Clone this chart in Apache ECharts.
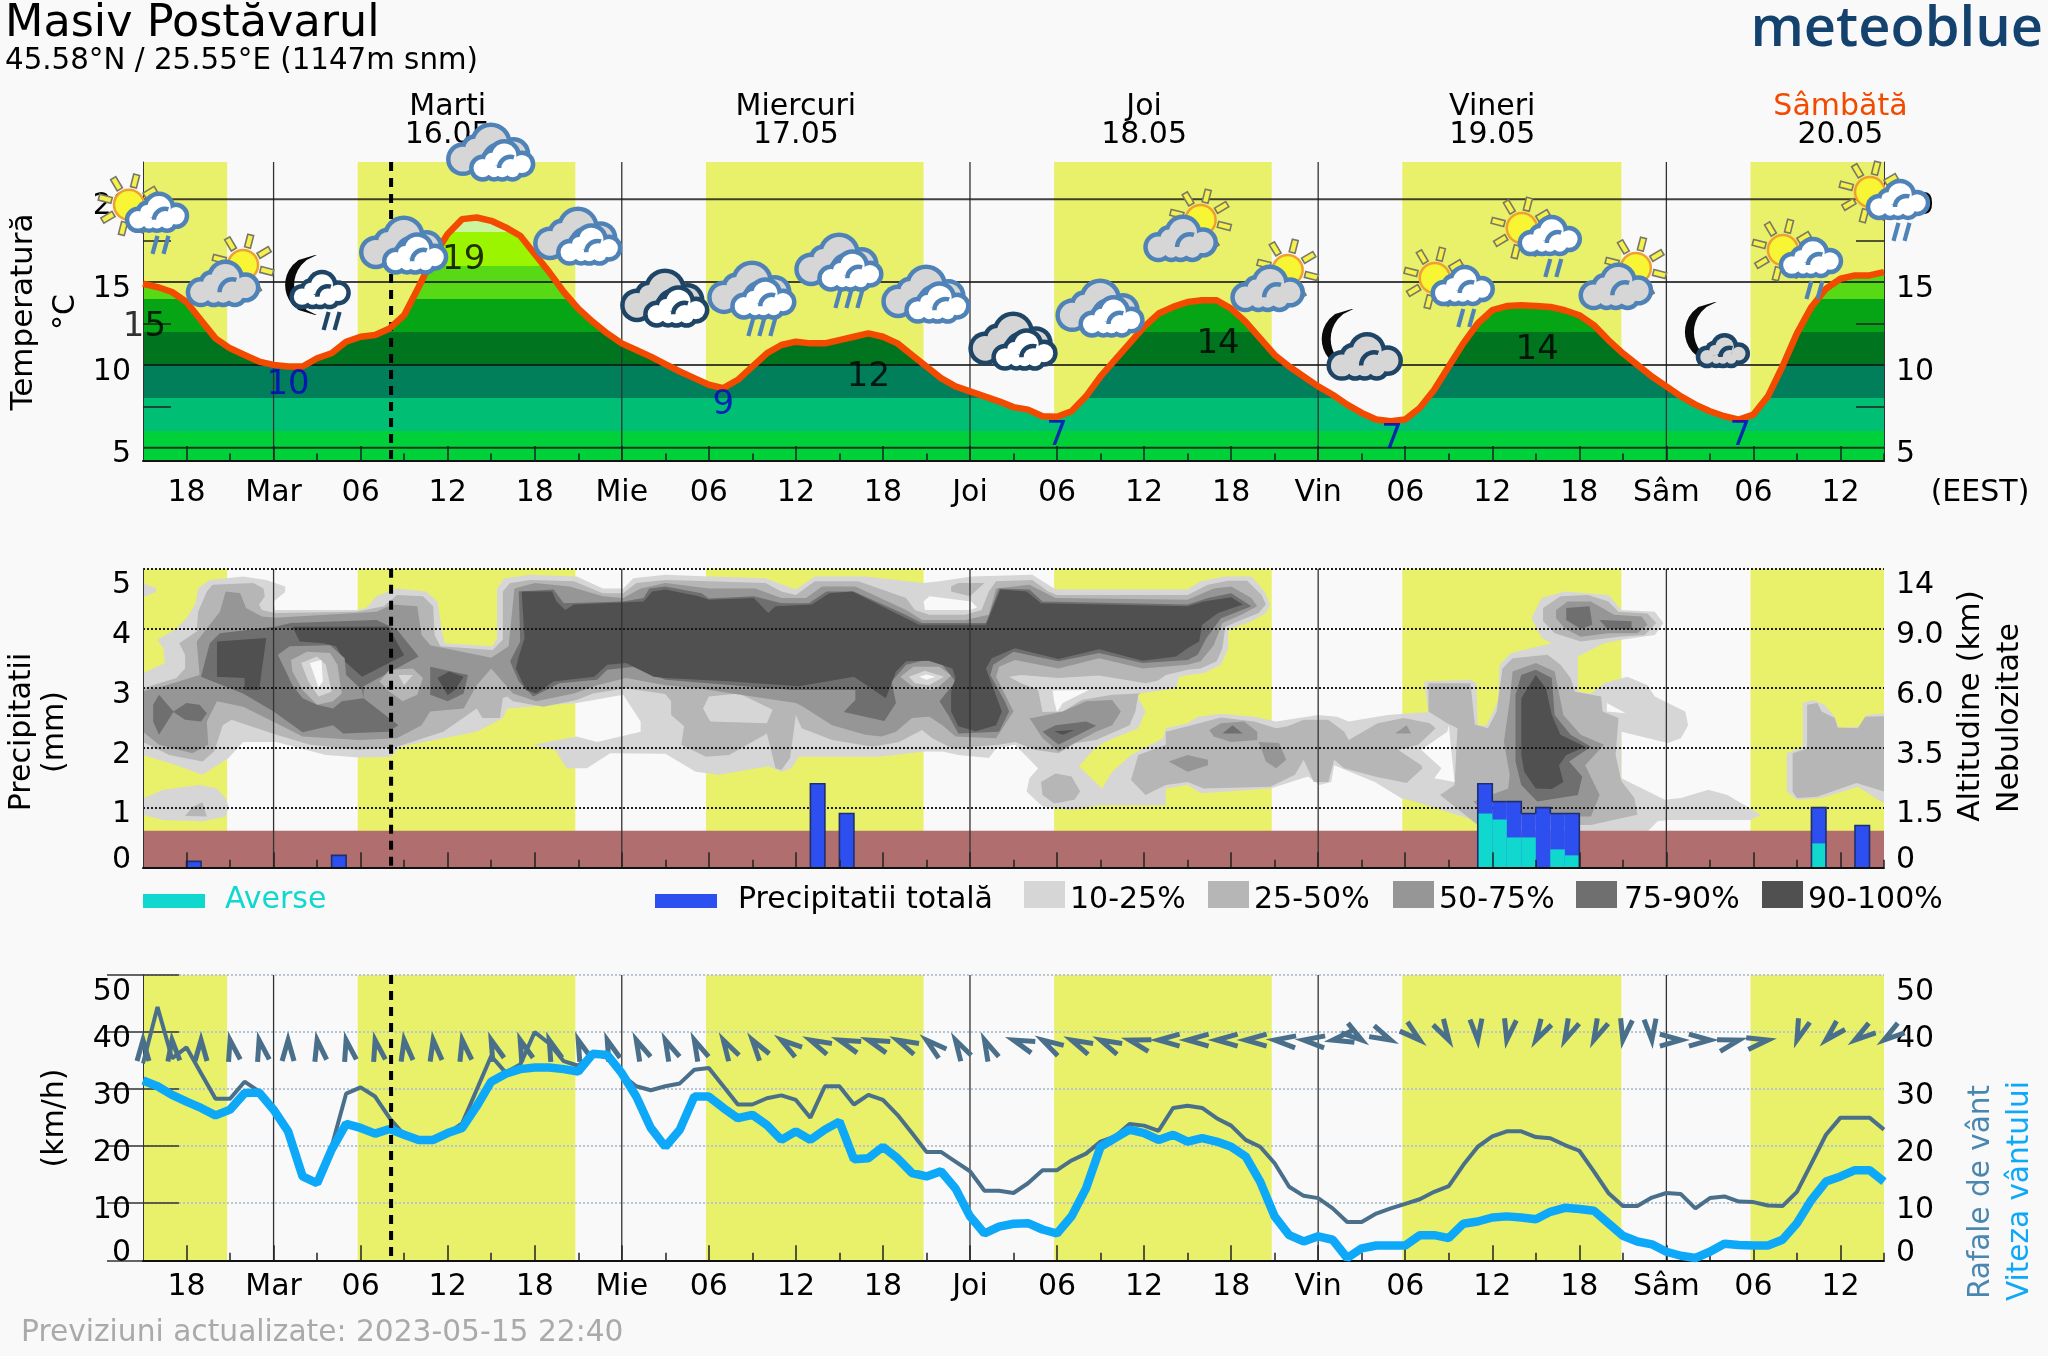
<!DOCTYPE html>
<html><head><meta charset="utf-8">
<style>html,body{margin:0;padding:0;background:#f9f9f9}#c{width:2048px;height:1356px}</style>
<script src="https://cdn.jsdelivr.net/npm/echarts@6/dist/echarts.min.js"></script>
</head><body><div id="c"></div>
<script>
// ---------- data ----------
const hourAxis = Array.from({length:121},(_,i)=>i); // hours since 15 May 15:00
const temperature = [14.9,14.7,14.4,13.8,12.7,11.6,11,10.6,10.2,10,9.9,9.9,10.4,10.7,11.4,11.7,11.8,12.2,13,14.7,16.5,17.9,18.8,18.9,18.7,18.3,17.8,16.7,15.6,14.4,13.4,12.6,11.9,11.3,10.9,10.5,10.05,9.6,9.2,8.8,8.6,9.1,9.9,10.7,11.2,11.4,11.3,11.3,11.5,11.7,11.9,11.7,11.3,10.6,9.9,9.2,8.7,8.4,8.1,7.8,7.45,7.3,6.9,6.87,7.2,8.1,9.3,10.3,11.3,12.3,13.1,13.5,13.8,13.9,13.9,13.4,12.6,11.6,10.6,9.9,9.3,8.7,8.2,7.6,7.1,6.7,6.6,6.7,7.4,8.5,9.9,11.3,12.5,13.3,13.55,13.6,13.55,13.5,13.3,13,12.4,11.5,10.7,10,9.3,8.7,8.1,7.6,7.2,6.9,6.7,7,8.1,9.9,11.9,13.5,14.6,15.2,15.4,15.4,15.6];
const windSpeed = [31.5,30.5,29,27.8,26.7,25.4,26.4,29.3,29.4,26.4,22.6,14.7,13.5,19.4,23.9,23.2,22.2,23,22,21.1,21.1,22.3,23.2,27,31.3,32.7,33.5,33.8,33.8,33.5,33.1,36.2,36,32.8,28.7,23.2,19.9,22.9,28.7,28.7,26.7,24.9,25.5,23.7,21.1,22.6,21.1,22.9,24.3,17.7,17.9,19.9,17.9,15.3,14.7,15.6,12.6,7.7,4.7,5.9,6.4,6.5,5.4,4.7,7.7,12.6,19.9,21.4,22.9,22.3,21.1,22,20.8,21.4,20.8,19.9,18.2,13.8,7.7,4.4,3.3,4.2,3.6,0.4,2.1,2.6,2.6,2.6,4.4,4.4,3.9,6.4,6.8,7.5,7.7,7.5,7.2,8.5,9.2,9,8.7,6.5,4.3,3.3,2.8,1.5,0.8,0.4,1.5,2.9,2.7,2.6,2.6,3.6,6.5,10.6,13.8,14.7,15.8,15.8,13.8];
const windGust = [34.5,44.4,35.4,37.3,32.8,28.3,28.3,31.3,29.6,26.4,22.6,14.7,13.5,19.9,29.2,30.3,28.7,24.9,22,21.1,21.1,22.3,24,29.9,35.8,32.9,34.3,40,38,34.9,34.1,36.2,35.5,32.5,30.5,29.8,30.5,31,33.4,33.7,30.5,27.3,27.3,28.4,28.9,28.1,25,30.5,30.5,27.3,29,28.1,25.5,22.3,19,19,17.3,15.6,12.2,12.2,11.8,13.5,15.8,15.8,17.5,18.7,20.8,21.7,23.9,23.6,22.7,26.7,27.1,26.7,24.9,23.6,21.1,19.9,17,12.9,11.3,10.9,9.1,6.7,6.7,8.2,9.1,9.9,10.7,12,13,16.7,19.9,21.7,22.6,22.6,21.6,21.4,20.2,19.2,15.6,11.8,9.5,9.5,11,11.8,11.6,9.1,10.9,11.2,10.3,10.2,9.6,9.5,12,17,22,25,25,25,22.9];
// wind direction every 2 hours, degrees clockwise from north-up
const windDirection = [0,-5,0,-12,-12,0,-10,-12,-12,-8,-8,-10,-20,-20,-20,-20,-20,-25,-25,-25,-30,-35,-55,-65,-70,-70,-65,-50,-30,-25,-70,-60,-65,-65,-75,-90,-90,-90,-90,-85,-85,-100,125,115,130,150,175,-170,-150,-155,-155,-170,175,90,90,75,80,-160,-135,-125,-125];
const rainHours   = [3,13,46,48,92,93,94,95,96,97,98,115,118];
const rainTotal   = [0.1,0.2,1.4,0.9,1.4,1.1,1.1,0.9,1.0,0.9,0.9,1.0,0.7];
const rainShowers = [0,0,0,0,0.9,0.8,0.5,0.5,0,0.3,0.2,0.4,0];
const daylight = [[0,5.8],[14.8,29.8],[38.8,53.8],[62.8,77.8],[86.8,101.9],[110.8,120]];
const dayLineHours = [9,33,57,81,105];
const nowHour = 17.1;
const groundLevel = 0.61;
const xLabelHours = [3,9,15,21,27,33,39,45,51,57,63,69,75,81,87,93,99,105,111,117];
const xLabels = ['18','Mar','06','12','18','Mie','06','12','18','Joi','06','12','18','Vin','06','12','18','Sâm','06','12'];
const xMinorHours = [6,12,18,24,30,36,42,48,54,60,66,72,78,84,90,96,102,108,114,120];
const dayHours = [21,45,69,93,117];
const dayNames = ['Marti','Miercuri','Joi','Vineri','Sâmbătă'];
const dayDates = ['16.05','17.05','18.05','19.05','20.05'];
const tempTicks = [5,10,15,20];
const tempMinorTicks = [7.5,12.5,17.5];
const tempBands = [4,6,8,10,12,14,16,18,20];
const tempBandColors = ['#00d13a','#00bf74','#007f5a','#00741f','#05a516','#58d915','#9cf500','#cdf5a0'];
const tempMarkHours = [0.1,10,22.1,40,50,63,74.1,86.1,96.1,110.1];
const tempMarkY     = [12.3,8.8,16.3,7.54,9.23,5.67,11.28,5.49,10.9,5.67];
const tempMarkText  = [15,10,19,9,12,7,14,7,14,7];
const tempMarkIsMin = [0,1,0,1,0,1,0,1,0,1];
const iconHours = [0,6,12,18,24,30,36,42,48,54,60,66,72,78,84,90,96,102,108,114,120];
const iconY = [19,15.67,14.46,17.24,22.86,17.78,14.04,13.92,15.61,14.28,11.44,13.44,18.39,15.37,11.2,14.58,17.6,15.49,11.8,16.27,19.78];
const iconKinds = ['sunRain','sunGrey','moonRain','clouds','clouds','clouds','cloudsDark','cloudsRain','cloudsRain','clouds','cloudsDark','clouds','sunGrey','sunGrey','moonGrey','sunRain','sunRain','sunGrey','moonSmall','sunRain','sunRain'];
const altitudeLabels = ['0','1.5','3.5','6.0','9.0','14'];
const precipLabels = ['0','1','2','3','4','5'];
const cloudShades = ['#d6d6d6','#b6b6b6','#969696','#6f6f6f','#505050','#f9f9f9'];

// cloud contours: flat hour,level pairs (left axis units)
const c10Main=[0,3.25,1.5,3.42,1.4,3.67,1,3.81,2.3,4,3,4.17,3.6,4.4,3.8,4.67,4.6,4.81,6.9,4.87,8.5,4.81,9.8,4.7,9.8,4.61,9,4.45,9.1,4.31,14.7,4.31,15.4,4.34,16.1,4.54,17.5,4.67,19.5,4.62,20.3,4.45,20.6,3.95,20.8,3.75,24.1,3.7,24.4,3.84,24.4,4.67,24.9,4.84,26.7,4.9,29.9,4.87,31.7,4.67,33.1,4.67,33.8,4.84,36,4.9,39,4.87,42.9,4.84,45,4.65,46.3,4.87,49.8,4.87,53.8,4.76,54.9,4.79,57.1,4.87,61.3,4.9,62.8,4.67,63.1,4.65,72,4.65,72.9,4.79,74.5,4.87,76.4,4.87,77.3,4.62,77.7,4.4,77.4,4.26,76.4,4.12,75,4,74.8,3.95,74.8,3.67,74.3,3.39,73.1,3.25,72,3.22,71.4,3.19,71.2,3,68.6,2.91,68.6,2.83,69.1,2.61,68.6,2.33,66.3,2.1,65.7,2.02,64.5,1.69,66.1,1.32,66.8,1.6,68.1,1.88,70.3,2.16,70.5,2.33,72,2.41,72.7,2.52,74.3,2.57,76.6,2.52,78.1,2.44,81,2.55,82.3,2.52,83.1,2.44,85.8,2.55,88.6,2.6,88.3,3.11,91.5,3.14,91.9,3.08,92,2.38,92.6,2.38,93.4,2.78,93.5,3.39,94.3,3.59,97.1,3.75,96.4,3.84,95.7,4.17,96.4,4.51,98,4.62,101,4.56,101.9,4.31,104.2,4.28,104.8,4.09,104.2,3.89,101.9,3.81,100.7,3.75,98.9,3.53,98.9,2.94,99.8,2.91,100.7,3.08,102.3,3.19,103.7,3.05,104.2,2.86,106.3,2.61,106.5,2.38,106,2.16,105.1,2.08,101.9,2.27,101.9,1.49,104.9,1.13,106,1.16,107.9,1.3,109.2,1.21,111.5,0.88,110.8,0.79,105.1,0.79,104.4,0.77,103.7,0.6,92,0.6,92,0.77,88.1,1.07,86.7,1.16,84.9,1.43,82.1,1.71,81.9,1.43,81.1,1.38,80.3,1.52,77.7,1.32,72.9,1.24,72,1.38,70.5,1.32,70.5,1.04,65.9,1.04,64,0.96,62,1.02,60.9,1.27,61.1,1.49,61.7,1.66,60.1,2.05,58.8,1.99,58.3,1.83,56.2,1.88,55.1,1.94,53.9,1.94,50.7,1.85,45.2,1.85,44.7,1.66,44,1.6,43.1,1.69,39.7,1.55,38.1,1.6,36,1.9,32.2,1.91,30.6,1.66,29.2,1.66,28.4,1.97,26.9,2.05,29.9,2.19,31.3,2.1,34.3,2.27,34.3,2.44,33.1,2.89,29.9,2.75,25.1,2.66,24.8,2.5,23,2.27,18.4,2.05,17.7,2.02,17.1,1.85,14.9,1.84,12.6,1.88,9.2,2.1,6.9,2.1,5.9,1.83,4.1,1.55,2.3,1.71,0,1.88];
const c10Island=[0,1.15,1.4,1.3,3.9,1.38,5.1,1.32,5.7,1.15,5.9,1.01,5.7,0.85,4.1,0.77,1.4,0.79,0,0.88];
const c10Tab=[0,4.76,0.9,4.67,0.9,4.61,0,4.52];
const c10Far=[114.4,2.75,115.1,2.8,115.9,2.72,116.6,2.52,116.9,2.33,118.3,2.36,118.8,2.55,120,2.58,120,1.07,118.2,1.35,115.7,1.16,114,1.13,113.3,1.27,113.3,1.91,114.4,2.02];
const c25Island=[2.9,0.86,3.4,1.01,4.1,1.09,4.4,0.85];
const c25Main=[0,3,2.3,3.17,2.9,3.33,2.9,3.56,2.5,3.75,3.7,3.95,3.8,4.28,4.4,4.62,4.8,4.73,7.6,4.76,8.3,4.67,8.4,4.54,8,4.4,8.2,4.31,9.1,4.26,14.7,4.28,16.6,4.37,17.5,4.56,19.3,4.54,20,4.37,20.1,3.89,20.5,3.7,24.1,3.64,24.8,3.81,24.8,4.62,25.3,4.76,26.7,4.81,29.7,4.79,31.7,4.59,33.1,4.59,34,4.76,36,4.81,39,4.79,42.9,4.76,44,4.62,45,4.56,46.3,4.79,49.3,4.79,52.6,4.51,53.2,4.31,54.2,4.23,56.7,4.23,57.8,4.31,58.3,4.62,58.8,4.79,61.3,4.81,62.4,4.62,63,4.56,72,4.56,73.4,4.73,74.8,4.8,76.1,4.8,77.1,4.56,77.4,4.4,76.9,4.26,75.7,4.14,74.6,4.03,74.4,3.67,74,3.45,72.9,3.33,72,3.31,70.5,3.22,68.6,2.89,68.4,2.61,68,2.38,65.7,2.13,64.3,2.08,63.1,1.91,61.5,1.97,60.1,2.1,59,2.05,55.8,1.99,54.4,2.16,53.7,2.3,52.1,2.1,50.3,2.02,47.5,2.13,45.4,2.33,45,2.55,44.6,1.83,44,1.63,43.6,1.66,43,2.24,40.4,1.88,38.8,1.85,37.1,2.05,37.3,2.36,36.4,2.55,36.4,2.78,36,2.9,33.3,3,31,2.91,29.9,2.8,27.6,2.69,25.5,2.78,25.1,2.86,24.8,2.83,24.6,2.5,23.4,2.5,23,2.66,20.7,2.27,17.5,2.02,14.9,1.97,11.5,2.05,9.2,2.22,6.1,2.47,5.5,2.38,4.9,1.94,4.1,1.77,1.8,1.88,0,2.1];
const c25Lower=[68.1,1.46,68.6,1.88,70.5,2.05,70.5,2.27,72,2.36,74.3,2.51,76.6,2.44,78.1,2.33,78.9,2.36,80,2.47,81.7,2.47,82.8,2.27,83.1,2.13,85.1,2.41,86.9,2.5,88.7,2.41,89.1,2.33,87.9,2.05,86.5,1.97,88.1,1.71,88.2,1.66,87.1,1.41,84.9,1.52,82.8,1.66,82.1,1.8,81.7,1.43,80.7,1.43,80,1.8,79.4,1.55,77.7,1.35,73.1,1.32,72,1.43,70.5,1.38,69.1,1.21];
const c25Right=[88.6,3.08,91.5,3.08,91.8,2.39,92.7,2.33,93.3,2.61,93.7,3.33,94.4,3.5,96.8,3.56,97.7,3.39,98.4,3.17,98.7,2.94,100.5,2.86,100.6,2.61,101.7,2.5,101.5,1.88,101.9,1.44,102.8,1.16,103,0.88,99.8,0.71,92,0.71,89.4,1.21,90.4,1.38,90.6,2.33,89.9,2.41,88.6,2.61];
const c25Upper=[96.5,4.34,97.7,4.54,99.6,4.56,101,4.45,101.7,4.28,103.7,4.25,104.3,4.09,103.5,3.89,101.7,3.86,99.1,3.78,97.3,3.92,96.5,4.12];
const c25Blob=[61.9,1.43,62.9,1.57,64,1.52,64.6,1.27,64.2,1.13,62.8,1.07,62,1.21];
const c25Top=[55.7,4.7,56.2,4.76,58,4.76,57,4.54,55.7,4.62];
const c25Far=[114.7,2.72,115.4,2.75,115.7,2.61,116.6,2.5,116.8,2.34,118.2,2.33,118.7,2.52,120,2.53,120,1.27,118.1,1.41,115.4,1.18,114,1.16,113.7,1.27,113.7,1.91,114.7,1.99];
const c10Stripe=[59.7,3.19,60.5,3.22,63.1,3.17,65.9,3.21,69.1,3.08,71.2,3.19,71.1,3,68.6,2.91,66.8,2.89,64.7,2.8,63.4,2.61,62,2.6,61.7,2.97,60.5,3.08];
const c10Patch=[38.6,2.66,39,2.86,41.1,2.91,43.4,2.64,43,2.41,39.1,2.44];
const clearStripe=[62.7,2.96,65.2,2.97,63.4,2.75,63,2.6,62.8,2.78];
const clearTop=[53.8,4.45,54.2,4.54,57.1,4.45,57.5,4.35,57,4.31,53.9,4.31];
const clearLower=[90,2.38,90.4,1.43,89,1.49,89.5,1.66,88.1,1.97,89.9,2.27];
const clearRight=[100.9,2.75,102.2,2.58,100.9,2.61];
const c50Main=[0,2.95,1.4,3.03,3.9,3.22,3.7,3.78,5.3,4.28,5.7,4.62,6.7,4.59,7.1,4.34,8.2,4.2,9.1,4.18,16.1,4.28,17.2,4.4,18.9,4.37,19.2,3.89,19.8,3.72,24,3.51,25.2,3.7,25.6,4.67,27,4.76,29.4,4.7,31.7,4.54,33.1,4.51,34.3,4.67,36,4.76,39,4.67,42.2,4.67,44,4.51,45.7,4.51,46.8,4.7,49.1,4.7,52.6,4.31,53.7,4.14,56.7,4.14,58.3,4.23,58.8,4.67,61.1,4.73,62.9,4.51,72,4.48,73.8,4.67,75,4.7,76.4,4.51,76.8,4.37,75.7,4.23,74.4,4.09,73.8,3.72,72.9,3.45,72,3.39,68.9,3.33,65.9,3.5,63.1,3.33,60.1,3.47,59,3.36,58.8,3.19,60,2.61,58.8,2.16,56,2.19,55.1,2.38,54.2,2.52,53,2.5,51.9,2.27,50.9,2.19,49.8,2.22,47.5,2.38,45.5,2.69,45,2.75,40.6,2.91,38.3,3,36,3.05,33.3,3.17,31.3,3.05,29.7,2.91,27.1,2.78,25.5,2.91,24,3.33,23,3.05,22.1,2.66,19.8,2.61,19.2,2.38,17.5,2.16,14.9,2.13,11,2.19,9.2,2.41,6.9,2.69,5.1,2.78,4.4,2.44,4.5,2.05,3.4,1.91,1.1,2.05,0,2.27];
const c50Blob=[61.3,2.5,63.4,2.61,65,2.78,66.8,2.8,67.4,2.61,66.8,2.38,65.7,2.27,63.1,1.94,62,2.16,61.1,2.5];
const c50Lobe=[76.9,2.1,78.3,2.08,78.8,1.8,78.1,1.66,77.4,1.77];
const c50Edge=[70.7,1.77,72,1.88,73.4,1.8,73.4,1.71,72,1.6];
const c50Oval=[73.5,2.3,74.3,2.41,75.9,2.44,76.8,2.27,76.8,2.13,75,2.1,73.8,2.19];
const c50Peak=[86.3,2.24,87.1,2.38,87.4,2.24];
const c50Right=[93.8,2.1,94.2,2.78,94.4,3.28,96,3.42,97.3,3.28,97.9,2.55,99.1,2.22,100.7,2.05,99.4,1.71,100.4,1.21,99.8,0.85,92.7,0.85,91.7,1.1,94.1,1.32,94.2,1.55];
const c50Upper=[97.4,4.31,98.2,4.45,99.8,4.45,101.4,4.23,103.3,4.2,103.7,4.06,103,3.92,101,3.92,99.1,3.86,98,4,97.4,4.17];
const c75Left=[4,3.19,4.6,3.75,5.3,3.92,9.1,4.03,10.2,4.09,16.1,4.14,17.5,3.98,19,3.53,15.2,3.03,15.2,2.83,17.6,2.38,16.9,2.27,13.8,2.24,13.1,2.38,11,2.26,9,2.61,6.9,2.91];
const c75Small=[0.7,2.72,1.1,2.89,2.1,2.61,3,2.75,3.9,2.72,4.4,2.58,4,2.44,2.9,2.47,2.1,2.6,1.1,2.22,0.7,2.44];
const c75Mid=[19.8,3.36,22.4,3.22,22.1,2.91,21,2.78,19.8,2.89];
const c75Main=[25.3,3.45,26,3.78,25.9,4.62,28.3,4.65,29,4.42,33.1,4.45,34.5,4.51,34.9,4.67,36,4.7,38.5,4.59,39,4.5,42.1,4.54,44,4.42,45.9,4.42,47.1,4.62,49,4.62,52.3,4.26,53.7,4.09,58.1,4.09,59,4.67,61.1,4.65,62,4.45,72,4.4,73.4,4.51,75,4.59,76.4,4.37,74.3,4.17,73.3,3.84,72.7,3.56,72,3.47,68.9,3.42,65.9,3.59,63.1,3.45,60,3.61,58.6,3.39,58.4,3.22,59.4,2.78,59.7,2.61,59,2.27,56.2,2.24,55.5,2.55,54.9,2.78,56,3.11,55.1,3.39,53.9,3.47,52.6,3.39,51.6,3.11,51.9,2.75,51.1,2.45,48.3,2.6,49.1,2.8,49.1,2.97,46.1,2.97,44.7,2.97,40.6,3.05,36,3.14,33.8,3.36,32,3.31,31.3,3.14,28.7,3.08,26.9,2.86,25.9,3.11];
const c75Blob=[62,2.27,62.9,2.38,65,2.44,65.7,2.37,63.1,2.05];
const c75Oval=[74.4,2.24,75.1,2.38,75.8,2.24];
const c75Right=[94.6,2.05,94.6,2.89,95,3.22,96,3.31,97.1,3.17,97.3,2.55,98.4,2.22,99.8,2.02,98.3,1.77,99.2,1.52,98.9,1.21,96.1,1.1,95,1.38,94.6,1.77];
const c75UpperA=[98.1,4.34,99.7,4.37,99.9,4.06,99.1,3.99,98.1,4.14];
const c75UpperB=[100.4,4.14,102.6,4.12,102.6,3.98,100.9,4];
const c90Left=[5.1,3.78,8.5,3.84,8,2.97,7,2.97,7,3.17,5.1,3.19];
const c90Centre=[10.3,4.03,16.9,4.03,18,3.55,15.1,3.19,13.9,3.45,13.3,3.7,12.4,3.75,10.8,3.78];
const c90Mid=[20.3,3.17,21.1,3.28,22.1,3.19,21.5,2.97,21,2.88];
const c90Main=[26.3,3.84,26.1,4.62,28.2,4.62,28.5,4.45,29.1,4.31,29.7,4.4,34.5,4.45,35.1,4.62,36,4.65,38.3,4.54,39,4.48,42.1,4.51,43.1,4.26,43.6,4.37,46.1,4.4,47.3,4.59,48.9,4.62,52.1,4.23,53.5,4.06,58.1,4.06,59.1,4.65,60.9,4.62,61.9,4.42,72,4.37,73.1,4.45,75,4.52,75.8,4.4,74.1,4.26,73,4.06,72.8,3.78,72,3.67,71.2,3.53,68.9,3.46,65.9,3.65,63.1,3.49,60.1,3.67,58.5,3.5,58.1,3.33,59.2,2.61,58.8,2.38,57.4,2.28,56.2,2.36,55.7,2.61,55.7,2.94,56,3.17,55.8,3.33,54.2,3.46,52.6,3.45,51.9,3.28,51.2,2.83,49,3.19,45.2,3.03,40.6,3.11,36,3.17,35.2,3.19,33.3,3.42,32,3.39,31.1,3.19,28.3,3.11,27.1,2.91,26.4,2.97,25.7,3.33,25.9,3.53];
const c90Blob=[62.8,2.28,64.2,2.3,63.4,2.22];
const c90Right=[95,1.88,95,2.83,96,3.22,96.7,3,97.1,2.55,97.7,2.22,99.4,2.02,98.1,1.88,97.6,1.71,97.9,1.43,97.1,1.31,96,1.32,95.2,1.6];
const holeA50=[9.3,3.56,10.1,3.7,12.9,3.72,13.9,3.5,14,3.22,15.1,2.97,15.2,2.83,13.7,2.78,13.1,2.66,12,2.72,11,2.83,10.3,3.05];
const holeA25=[10.2,3.47,11.3,3.61,12.9,3.59,13.4,3.39,13.7,2.91,13.1,2.78,12,2.72,11,2.97,10.3,3.28];
const holeA10=[10.9,3.42,12,3.53,12.6,3.39,13,2.94,12.1,2.86,11.4,3.11];
const holeAClear=[11.5,3.42,12.3,3.47,12.4,3.11,12.1,3.01,11.8,3.22];
const holeB25=[16.3,3.11,17,3.31,18.6,3.33,19.3,3.17,18.9,2.89,17.9,2.78,17,2.94];
const holeB10=[17.6,3.22,18.6,3.22,18,3.05];
const holeC25=[52.2,3.19,53.1,3.36,54.9,3.36,55.7,3.21,54.9,3.03,54.3,2.97,53,3.03];
const holeC10=[52.8,3.19,53.9,3.29,55.2,3.19,54.2,3.05,53.2,3.08];
const holeCClear=[53.5,3.19,54,3.23,54.6,3.19,54,3.14];
// painting order: [shade index, contour]
const cloudLayers=[[0,c10Main],[0,c10Island],[0,c10Tab],[0,c10Far],[1,c25Island],[1,c25Main],[1,c25Lower],[1,c25Right],[1,c25Upper],[1,c25Blob],[1,c25Top],[1,c25Far],[0,c10Stripe],[0,c10Patch],[5,clearStripe],[5,clearTop],[5,clearLower],[5,clearRight],[2,c50Main],[2,c50Blob],[2,c50Lobe],[2,c50Edge],[2,c50Oval],[2,c50Peak],[2,c50Right],[2,c50Upper],[3,c75Left],[3,c75Small],[3,c75Mid],[3,c75Main],[3,c75Blob],[3,c75Oval],[3,c75Right],[3,c75UpperA],[3,c75UpperB],[4,c90Left],[4,c90Centre],[4,c90Mid],[4,c90Main],[4,c90Blob],[4,c90Right],[2,holeA50],[1,holeA25],[0,holeA10],[5,holeAClear],[1,holeB25],[0,holeB10],[1,holeC25],[0,holeC10],[5,holeCClear]];

// ---------- layout ----------
const FONT='"DejaVu Sans"';
const G=[{top:162,bottom:461},{top:568.7,bottom:867.3},{top:975,bottom:1260.3}];
const L=143,R=1884;
const tempMin=4.197,tempMax=22.25;
const YELLOW='#e9f069',GUST='#4a6f8a',SPEED='#0ea8f8',BLUE='#2e4ff0',CYAN='#10d8cf',ORANGE='#f24b00';
const TICK=30;
const grids=G.map(g=>({left:L,width:R-L,top:g.top,height:g.bottom-g.top,containLabel:false}));

function xAxisMajor(g,labels,margin){return {type:'value',gridIndex:g,position:'bottom',min:0,max:120,z:6,splitLine:{show:false},
  axisLine:{show:true,onZero:false,lineStyle:{color:'#111',width:2}},
  axisTick:{show:true,inside:true,length:15,customValues:xLabelHours,lineStyle:{color:'#222',width:1.5}},
  axisLabel:{show:labels,customValues:xLabelHours,margin,hideOverlap:false,showMinLabel:true,showMaxLabel:true,
    fontFamily:FONT,fontSize:TICK,color:'#000',formatter:v=>xLabels[xLabelHours.indexOf(v)]}};}
function xAxisMinor(g){return {type:'value',gridIndex:g,position:'bottom',min:0,max:120,z:6,splitLine:{show:false},axisLine:{show:false,onZero:false},
  axisTick:{show:true,inside:true,length:7.5,customValues:xMinorHours,lineStyle:{color:'#222',width:1.5}},axisLabel:{show:false}};}
const xAxes=[xAxisMajor(0,true,17),xAxisMinor(0),
 {type:'value',gridIndex:0,position:'top',min:0,max:120,splitLine:{show:false},axisLine:{show:false},axisTick:{show:false},
  axisLabel:{show:true,customValues:dayHours,margin:13,fontFamily:FONT,fontSize:TICK,color:'#000',lineHeight:28,align:'center',
   formatter:v=>{const i=dayHours.indexOf(v);return i===4?'{w|'+dayNames[i]+'}\n'+dayDates[i]:dayNames[i]+'\n'+dayDates[i];},
   rich:{w:{color:ORANGE,fontFamily:FONT,fontSize:TICK,lineHeight:28}}}},
 xAxisMajor(1,false,17),xAxisMinor(1),xAxisMajor(2,true,12),xAxisMinor(2)];
const lab={fontFamily:FONT,fontSize:TICK,color:'#000'};
// labels sit slightly under their tick: top-aligned in a short line box; the extreme labels stay inside the panel
const LABEL_BOX=14;
const edgeRich={t:{fontFamily:FONT,fontSize:TICK,color:'#000',lineHeight:34}};
function tempAxis(pos){return {type:'value',gridIndex:0,position:pos,min:tempMin,max:tempMax,z:4,splitLine:{show:false},
  axisLine:{show:true,onZero:false,lineStyle:{color:'#333',width:1}},
  axisTick:{show:true,inside:true,length:28,customValues:tempMinorTicks,lineStyle:{color:'#222',width:1.5}},
  axisLabel:Object.assign({},lab,{show:true,customValues:tempTicks,margin:12,verticalAlign:'top',lineHeight:LABEL_BOX,hideOverlap:false,formatter:v=>String(v)})};}
function precipAxis(pos,labels){return {type:'value',gridIndex:1,position:pos,min:0,max:5,interval:1,z:3,
  splitLine:{show:true,lineStyle:{color:'#111',type:[2,2],width:1.5}},axisLine:{show:pos==='right',lineStyle:{color:'#333',width:1}},axisTick:{show:false},
  axisLabel:Object.assign({},lab,{margin:12,verticalAlign:'top',lineHeight:LABEL_BOX,hideOverlap:false,verticalAlignMinLabel:'bottom',verticalAlignMaxLabel:'top',rich:edgeRich,
    formatter:v=>v===5?'{t|'+labels[5]+'}':labels[Math.round(v)]})};}
function windAxis(pos){return {type:'value',gridIndex:2,position:pos,min:0,max:50,interval:10,z:2,
  splitLine:{show:true,lineStyle:{color:'#b5c2cf',type:[2,2],width:1.5}},axisLine:{show:true,lineStyle:{color:'#333',width:1}},
  axisTick:{show:true,inside:true,length:36,lineStyle:{color:'#333',width:1.5}},
  axisLabel:Object.assign({},lab,{margin:12,verticalAlign:'top',lineHeight:LABEL_BOX,hideOverlap:false,verticalAlignMinLabel:'bottom',verticalAlignMaxLabel:'top',rich:edgeRich,
    formatter:v=>v===50?'{t|50}':String(v)})};}
const yAxes=[tempAxis('left'),tempAxis('right'),precipAxis('left',precipLabels),precipAxis('right',altitudeLabels),windAxis('left'),windAxis('right')];

// ---------- helper series ----------
function rectSeries(name,xi,yi,rows,color,z,yr){return {type:'custom',name,xAxisIndex:xi,yAxisIndex:yi,z,silent:true,data:rows,
  encode:{x:0,y:2},renderItem(p,api){const a=api.coord([api.value(0),yr?yr[1]:api.value(3)]),b=api.coord([api.value(1),yr?yr[0]:api.value(2)]);
   return {type:'rect',shape:{x:a[0],y:a[1],width:b[0]-a[0],height:b[1]-a[1]},style:{fill:color}};}};}
function vlineSeries(name,xi,yi,rows,yr,style,z){return {type:'custom',name,xAxisIndex:xi,yAxisIndex:yi,z,silent:true,data:rows.map(v=>[v]),
  encode:{x:0},renderItem(p,api){const a=api.coord([api.value(0),yr[1]]),b=api.coord([api.value(0),yr[0]]);
   return {type:'line',shape:{x1:a[0],y1:a[1],x2:b[0],y2:b[1]},style};}};}
function hlineSeries(name,xi,yi,rows,style,z){return {type:'custom',name,xAxisIndex:xi,yAxisIndex:yi,z,silent:true,data:rows.map(v=>[0,v]),
  encode:{x:0,y:1},renderItem(p,api){const a=api.coord([0,api.value(1)]),b=api.coord([120,api.value(1)]);
   return {type:'line',shape:{x1:a[0],y1:a[1],x2:b[0],y2:b[1]},style};}};}
const xy=(h,v)=>h.map((x,i)=>[x,v[i]]);
const dayStyle={stroke:'#333',lineWidth:1.3};
const nowStyle={stroke:'#000',lineWidth:4,lineDash:[9,7]};

// ---------- icons ----------
function ringCloud(cx,cy,s,fill,stroke,lw){
  const lumps=[[-19,7,11],[2,-5,14],[19,3,11],[0,9,9],[-8,10,8],[10,9,9],[-10,-1,9]];
  const out=[];
  lumps.forEach(l=>out.push({type:'circle',shape:{cx:cx+l[0]*s,cy:cy+l[1]*s,r:l[2]*s+lw/2},style:{fill:stroke}}));
  lumps.forEach(l=>out.push({type:'circle',shape:{cx:cx+l[0]*s,cy:cy+l[1]*s,r:Math.max(l[2]*s-lw/2,1)},style:{fill}}));
  out.push({type:'arc',shape:{cx:cx+8*s,cy:cy+7*s,r:11*s,startAngle:Math.PI*1.0,endAngle:Math.PI*1.6,clockwise:true},style:{stroke,lineWidth:lw,fill:null}});
  return out;
}
function sun(cx,cy){
  const out=[];
  for(let i=0;i<8;i++){const a=i*Math.PI/4+0.25,c=Math.cos(a),d=Math.sin(a),pt=(r,w)=>[cx+r*c-w*d,cy+r*d+w*c];
    out.push({type:'polygon',shape:{points:[pt(18,-3),pt(31,-3),pt(31,3),pt(18,3)]},style:{fill:'#f5f04a',stroke:'#77776a',lineWidth:1.6}});}
  out.push({type:'circle',shape:{cx,cy,r:15},style:{fill:'#f8f534',stroke:'#f0a030',lineWidth:2.5}});
  return out;
}
function moon(cx,cy,s){
  const pts=[];
  for(let t=-1;t<=1.001;t+=1/6)pts.push([cx+(-2-Math.sqrt(Math.max(0,900-900*t*t)))*s,cy+(-6+30*t)*s]);
  for(let t=1;t>=-1.001;t-=1/6)pts.push([cx+(8.2-Math.sqrt(Math.max(0,973-900*t*t)))*s,cy+(-6+30*t)*s]);
  return [{type:'polygon',shape:{points:pts},style:{fill:'#0a0a0a'}}];
}
function rain(cx,cy,n,color){
  const out=[];
  for(let i=0;i<n;i++){const x=cx+(i-(n-1)/2)*11;out.push({type:'line',shape:{x1:x+3,y1:cy-9,x2:x-2,y2:cy+9},style:{stroke:color,lineWidth:4.2}});}
  return out;
}
const OUT='#4f83b8',DARK='#1f4566';
function threeClouds(dy,stroke){return ringCloud(-3,-2+dy,1.33,'#d6d6d6',stroke,4.5).concat(ringCloud(11,9+dy,1.03,'#ffffff',stroke,4.5));}
const iconMakers={
  sunRain:()=>sun(-14,-11).concat(ringCloud(14,-3,1,'#fff',OUT,4.5),rain(17,29,2,OUT)),
  sunGrey:()=>sun(13,-6).concat(ringCloud(-7,13,1.17,'#d6d6d6',OUT,4.5)),
  moonRain:()=>moon(0,0,1).concat(ringCloud(3,-1,0.95,'#fff',DARK,4.5),rain(14,30,2,DARK)),
  clouds:()=>threeClouds(0,OUT),
  cloudsDark:()=>threeClouds(0,DARK),
  cloudsRain:()=>threeClouds(-10,OUT).concat(rain(9,27,3,OUT)),
  moonGrey:()=>moon(-8,0,1).concat(ringCloud(3,12,1.2,'#d6d6d6',DARK,4.5)),
  moonSmall:()=>moon(7,3,1).concat(ringCloud(13,16,0.83,'#d6d6d6',DARK,4.5))
};

// ---------- series ----------
const bandStops=[];
tempBandColors.forEach((c,i)=>{
  const hi=(tempMax-tempBands[i+1])/(tempMax-tempMin),lo=(tempMax-tempBands[i])/(tempMax-tempMin);
  bandStops.unshift({offset:Math.min(1,lo),color:c});bandStops.unshift({offset:Math.max(0,hi),color:c});
});
const rainAt=h=>{const i=rainHours.indexOf(h);return i<0?0:rainTotal[i];};
const series=[
  rectSeries('Daylight',0,0,daylight.map(d=>[d[0],d[1]]),YELLOW,1,[tempMin,tempMax]),
  rectSeries('Daylight2',3,2,daylight.map(d=>[d[0],d[1]]),YELLOW,1,[0,5]),
  rectSeries('Daylight3',5,4,daylight.map(d=>[d[0],d[1]]),YELLOW,1,[0,50]),
  {type:'line',name:'Temperatură zone',xAxisIndex:0,yAxisIndex:0,z:3,silent:true,showSymbol:false,data:xy(hourAxis,temperature),
    lineStyle:{width:0,opacity:0},areaStyle:{origin:'start',opacity:1,color:new echarts.graphic.LinearGradient(0,G[0].top,0,G[0].bottom,bandStops,true)}},
  vlineSeries('Zile',0,0,dayLineHours,[tempMin,tempMax],dayStyle,3.5),
  hlineSeries('Grilă',0,0,tempTicks,{stroke:'rgba(20,20,20,.8)',lineWidth:2},4),
  {type:'line',name:'Temperatură',xAxisIndex:0,yAxisIndex:0,z:5,showSymbol:false,data:xy(hourAxis,temperature),lineStyle:{color:ORANGE,width:6.5},smooth:false},
  vlineSeries('Acum',0,0,[nowHour],[tempMin,tempMax],nowStyle,5),
  {type:'scatter',name:'Extreme',xAxisIndex:0,yAxisIndex:0,z:7,symbolSize:0,silent:true,
    data:tempMarkHours.map((h,i)=>({value:[h,tempMarkY[i]],label:{show:true,position:'inside',formatter:String(tempMarkText[i]),fontFamily:FONT,fontSize:34,color:tempMarkIsMin[i]?'#0000c8':'#000'}}))},
  {type:'custom',name:'Iconițe',xAxisIndex:0,yAxisIndex:0,z:20,silent:true,clip:false,encode:{x:0,y:1},
    data:iconHours.map((h,i)=>[h,iconY[i],i]),
    renderItem(p,api){const q=api.coord([api.value(0),api.value(1)]);
      return {type:'group',x:q[0],y:q[1],children:iconMakers[iconKinds[api.value(2)]]()};}},
  // precipitation panel
  {type:'custom',name:'Nebulozitate',xAxisIndex:3,yAxisIndex:2,z:1.5,silent:true,encode:{x:0},data:cloudLayers.map((l,i)=>[i]),
    renderItem(p,api){const l=cloudLayers[api.value(0)],pts=[];
      for(let i=0;i<l[1].length;i+=2)pts.push(api.coord([l[1][i],l[1][i+1]]));
      return {type:'polygon',shape:{points:pts},style:{fill:cloudShades[l[0]]}};}},
  rectSeries('Sol',3,2,[[0,120,0,groundLevel]],'#b06e6e',2.5),
  vlineSeries('Zile2',3,2,dayLineHours,[0,5],dayStyle,3.5),
  {type:'bar',name:'Precipitatii totală',xAxisIndex:3,yAxisIndex:2,z:4,barWidth:14.5,barGap:'-100%',data:xy(rainHours.map(h=>h+0.5),rainTotal),itemStyle:{color:BLUE}},
  {type:'bar',name:'Averse',xAxisIndex:3,yAxisIndex:2,z:4.1,barWidth:14.5,barGap:'-100%',data:xy(rainHours.map(h=>h+0.5),rainShowers),itemStyle:{color:CYAN}},
  {type:'custom',name:'Contur precipitații',xAxisIndex:3,yAxisIndex:2,z:4.2,silent:true,encode:{x:0,y:1},data:xy(rainHours,rainTotal),
    renderItem(p,api){const h=api.value(0),v=api.value(1),tl=api.coord([h,v]),tr=api.coord([h+1,v]),
       l=api.coord([h,rainAt(h-1)>v?v:rainAt(h-1)]),r=api.coord([h+1,rainAt(h+1)>v?v:rainAt(h+1)]);
      return {type:'polyline',shape:{points:[l,tl,tr,r]},style:{stroke:'#1e2f70',fill:null,lineWidth:1.6}};}},
  vlineSeries('Acum2',3,2,[nowHour],[0,5],nowStyle,5),
  // wind panel
  vlineSeries('Zile3',5,4,dayLineHours,[0,50],dayStyle,3.5),
  {type:'custom',name:'Direcția vântului',xAxisIndex:5,yAxisIndex:4,z:5,silent:true,encode:{x:0,y:1},
    data:windDirection.map((d,i)=>[i*2,38.6,d]),
    renderItem(p,api){const q=api.coord([api.value(0),api.value(1)]);
      return {type:'polyline',x:q[0],y:q[1],rotation:-api.value(2)*Math.PI/180,shape:{points:[[-6,21],[0,0],[6,21]]},
        style:{stroke:GUST,fill:null,lineWidth:5,lineJoin:'miter'}};}},
  {type:'line',name:'Rafale de vânt',xAxisIndex:5,yAxisIndex:4,z:6,showSymbol:false,data:xy(hourAxis,windGust),lineStyle:{color:GUST,width:4}},
  {type:'line',name:'Viteza vântului',xAxisIndex:5,yAxisIndex:4,z:7,showSymbol:false,data:xy(hourAxis,windSpeed),lineStyle:{color:SPEED,width:8.5}},
  vlineSeries('Acum3',5,4,[nowHour],[0,50],nowStyle,8)
];

// ---------- page text ----------
function txt(text,x,y,size,fill,opt){opt=opt||{};return {type:'text',x,y,rotation:opt.rot?Math.PI/2:0,z:30,silent:true,
  style:{text,fill,font:(opt.weight||'normal')+' '+size+'px '+(opt.family||FONT),align:opt.align||'left',verticalAlign:'middle',lineHeight:opt.lh||size}};}
function box(x,y,w,h,fill){return {type:'rect',z:30,silent:true,shape:{x,y,width:w,height:h},style:{fill}};}
const legendShades=[['10-25%',1024,1070],['25-50%',1208,1254],['50-75%',1393,1439],['75-90%',1576,1624],['90-100%',1762,1808]];
const graphic=[
  txt('Masiv Postăvarul',5,24,44.5,'#000'),
  txt('45.58°N / 25.55°E (1147m snm)',5,61,29.3,'#000'),
  txt('meteoblue',2043,30,56,'#14426f',{align:'right',family:'"Open Sans"',weight:'600'}),
  txt('Temperatură',24,312,31,'#000',{rot:true,align:'center'}),
  txt('°C',66,312,30,'#000',{rot:true,align:'center'}),
  txt('(EEST)',1980,493,30,'#000',{align:'center'}),
  txt('Precipitatii',22,732,30,'#000',{rot:true,align:'center'}),
  txt('(mm)',55,732,30,'#000',{rot:true,align:'center'}),
  txt('Altitudine (km)',1971,706,31,'#000',{rot:true,align:'center'}),
  txt('Nebulozitate',2010,718,30,'#000',{rot:true,align:'center'}),
  box(143,894,62,14,CYAN),txt('Averse',225,900,30,CYAN),
  box(655,894,62,14,BLUE),txt('Precipitatii totală',738,900,30,'#000'),
  txt('(km/h)',55,1118,30,'#000',{rot:true,align:'center'}),
  txt('Rafale de vânt',1981,1192,29.5,'#4a87b0',{rot:true,align:'center'}),
  txt('Viteza vântului',2020,1191,29.5,SPEED,{rot:true,align:'center'}),
  txt('Previziuni actualizate: 2023-05-15 22:40',21,1333,29.7,'#aaaaaa')
];
legendShades.forEach((l,i)=>{graphic.push(box(l[1],881,41,27,cloudShades[i]));graphic.push(txt(l[0],l[2],900,30,'#000'));});

const chart=echarts.init(document.getElementById('c'),null,{renderer:'canvas',width:2048,height:1356});
chart.setOption({animation:false,backgroundColor:'#f9f9f9',tooltip:{show:false},grid:grids,xAxis:xAxes,yAxis:yAxes,series,graphic});
</script></body></html>
